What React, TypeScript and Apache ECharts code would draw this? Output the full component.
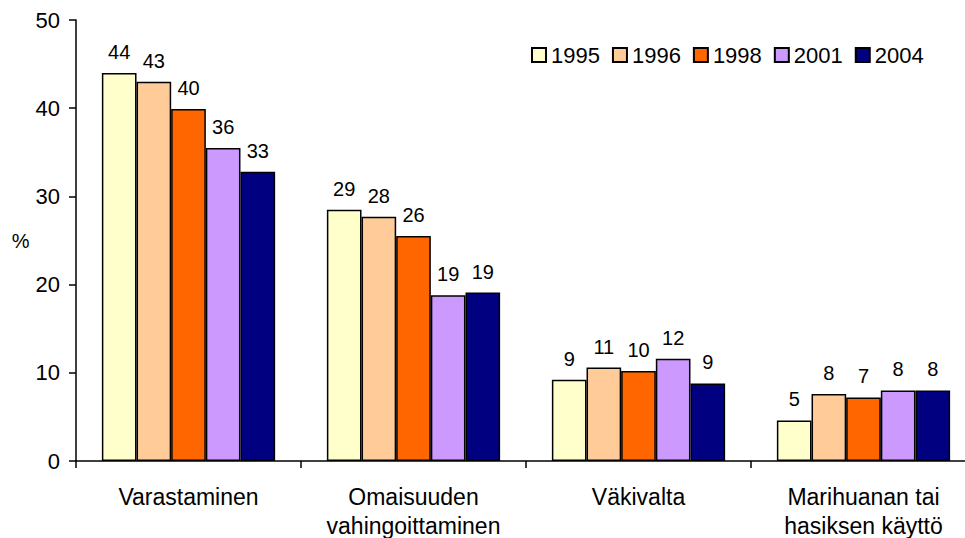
import React, { useEffect, useRef } from "react";
import * as echarts from "echarts";

const categories = [
  "Varastaminen",
  "Omaisuuden\nvahingoittaminen",
  "Väkivalta",
  "Marihuanan tai\nhasiksen käyttö",
];
const years = ["1995", "1996", "1998", "2001", "2004"];
const v1995 = [44.0, 28.5, 9.2, 4.6];
const v1996 = [43.0, 27.7, 10.6, 7.6];
const v1998 = [39.9, 25.5, 10.2, 7.2];
const v2001 = [35.5, 18.8, 11.6, 8.0];
const v2004 = [32.8, 19.1, 8.8, 8.0];
const colors = ["#FFFFCC", "#FFCC99", "#FF6600", "#CC99FF", "#000080"];
const yTicks = [0, 10, 20, 30, 40, 50];

const FONT = 'Arial, "Liberation Sans", sans-serif';

export default function App() {
  const ref = useRef<HTMLDivElement>(null);
  useEffect(() => {
    if (!ref.current) return;
    const chart = echarts.init(ref.current, null, { renderer: "svg" });
    const all = [v1995, v1996, v1998, v2001, v2004];
    chart.setOption({
      animation: false,
      textStyle: { fontFamily: FONT, color: "#000" },
      grid: { left: 76, top: 20, bottom: 77, right: -11, outerBoundsMode: "none", containLabel: false },
      legend: {
        left: 526,
        top: 39,
        itemWidth: 14,
        itemHeight: 14,
        itemGap: 12,
        icon: "rect",
        textStyle: { fontFamily: FONT, fontSize: 22, color: "#000" },
        data: years,
      },
      xAxis: {
        type: "category",
        data: categories,
        axisLine: { lineStyle: { color: "#000", width: 1.5 } },
        axisTick: { show: true, length: 7, lineStyle: { color: "#000", width: 1.5 } },
        axisLabel: {
          color: "#000",
          fontFamily: FONT,
          fontSize: 23,
          margin: 21,
          lineHeight: 29,
          interval: 0,
        },
      },
      yAxis: {
        type: "value",
        min: yTicks[0],
        max: yTicks[yTicks.length - 1],
        interval: 10,
        name: "%",
        nameLocation: "middle",
        nameRotate: 0,
        nameGap: 46,
        nameTextStyle: { color: "#000", fontFamily: FONT, fontSize: 20 },
        axisLine: { show: true, lineStyle: { color: "#000", width: 1.5 } },
        axisTick: { show: true, length: 7, lineStyle: { color: "#000", width: 1.5 } },
        axisLabel: { color: "#000", fontFamily: FONT, fontSize: 22, margin: 16 },
        splitLine: { show: false },
      },
      series: years.map((y, i) => ({
        name: y,
        type: "bar",
        data: all[i],
        barGap: "0%",
        barCategoryGap: "23%",
        itemStyle: { color: colors[i], borderColor: "#000", borderWidth: 1.5 },
        label: {
          show: true,
          position: "top",
          distance: 11,
          color: "#000",
          fontFamily: FONT,
          fontSize: 20,
          formatter: (p: any) => String(Math.round(p.value)),
        },
      })),
    });
    return () => chart.dispose();
  }, []);
  return (
    <div
      ref={ref}
      style={{ position: "absolute", left: 0, top: 0, width: 965, height: 538, background: "#fff" }}
    />
  );
}
